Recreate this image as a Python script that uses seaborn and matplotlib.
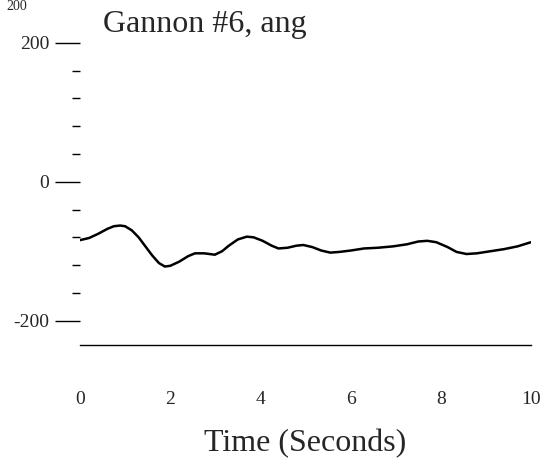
import pandas as pd
import matplotlib.pyplot as plt
import seaborn as sns
from matplotlib.ticker import FixedLocator

# data
time_s = [0, 0.2, 0.4, 0.6, 0.75, 0.89, 1.0, 1.15, 1.3, 1.45, 1.6, 1.75, 1.88, 2.0,
          2.2, 2.4, 2.55, 2.75, 2.99, 3.15, 3.3, 3.5, 3.7, 3.85, 4.05, 4.25, 4.4,
          4.6, 4.8, 4.95, 5.15, 5.35, 5.55, 5.75, 6.0, 6.3, 6.6, 6.94, 7.25, 7.5,
          7.7, 7.9, 8.15, 8.35, 8.57, 8.8, 9.1, 9.4, 9.7, 10]
angle = [-84, -81, -75, -68, -64, -63, -64, -70, -80, -93, -106, -117, -122, -121,
         -115, -107, -103, -103, -105, -100, -92, -83, -79, -80, -85, -92, -96,
         -95, -92, -91, -94, -99, -102, -101, -99, -96, -95, -93, -90, -86,
         -85, -87, -94, -101, -104, -103, -100, -97, -93, -87]
x_ticks = [0, 2, 4, 6, 8, 10]
y_ticks = [-200, 0, 200]
y_minor = [-160, -120, -80, -40, 40, 80, 120, 160]

df = pd.DataFrame({'Time': time_s, 'Angle': angle})

sns.set_style('white')
plt.rcParams['font.family'] = ['Liberation Serif', 'DejaVu Serif']

fig = plt.figure(figsize=(5.45, 4.68), dpi=100)
ax = fig.add_axes([0.1468, 0.2628, 0.8275, 0.705])

sns.lineplot(data=df, x='Time', y='Angle', color='black', linewidth=1.8, ax=ax)

ax.set_xlim(0, 10)
ax.set_ylim(-235, 240)
ax.set_xticks(x_ticks)
ax.set_xticklabels([str(t) for t in x_ticks], fontsize=14)
ax.set_yticks(y_ticks)
ax.set_yticklabels([str(t) for t in y_ticks], fontsize=14)
ax.yaxis.set_minor_locator(FixedLocator(y_minor))

ax.tick_params(axis='x', length=0, pad=33)
ax.tick_params(axis='y', which='major', length=18, width=1, pad=4, color='black', left=True)
ax.tick_params(axis='y', which='minor', length=6, width=1, color='black', left=True)

for s in ['top', 'right', 'left']:
    ax.spines[s].set_visible(False)
ax.spines['bottom'].set_color('black')
ax.spines['bottom'].set_linewidth(1)

ax.set_xlabel('Time (Seconds)', fontsize=23, labelpad=15)
ax.set_ylabel('')
ax.text(0.5, 226, 'Gannon #6, ang', fontsize=23, va='center', ha='left')

# label of the panel above, cut by the page edge
fig.text(0.012, 0.999, '200', fontsize=10, va='top', ha='left')

fig.savefig('out.png', dpi=100)
